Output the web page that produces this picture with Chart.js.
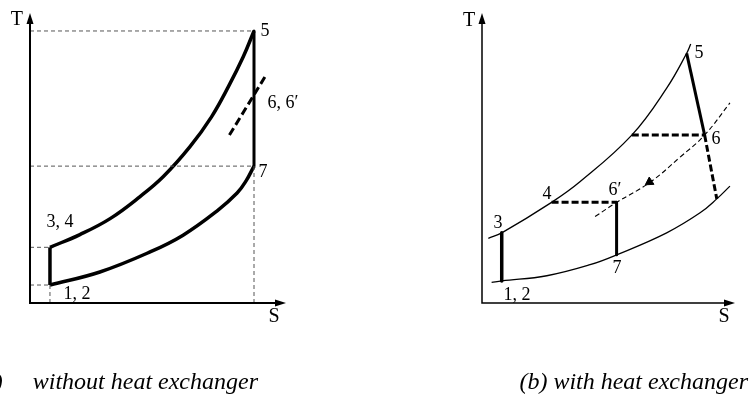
<!DOCTYPE html>
<html><head><meta charset="utf-8">
<script src="https://cdn.jsdelivr.net/npm/chart.js@4.4.0/dist/chart.umd.min.js"></script>
<style>
html,body{margin:0;padding:0;background:#fff;width:756px;height:400px;overflow:hidden;}
canvas{position:absolute;top:0;}
.cap{position:absolute;top:369px;font:italic 24px "Liberation Serif";white-space:pre;line-height:24px;color:#000;}
</style></head><body>
<canvas id="ca" width="378" height="400" style="left:0"></canvas>
<canvas id="cb" width="378" height="400" style="left:378px"></canvas>
<div class="cap" style="right:498px">(a)     without heat exchanger</div>
<div class="cap" style="right:8px">(b) with heat exchanger</div>
<script>
// ---------- Panel (a): without heat exchanger ----------
const aStateS = [0.78, 8.75];              // s1 (=s2=s3=s4), s5 (=s6=s7)
const aStateT = [0.62, 1.92, 4.72, 9.38];  // T1,2 ; T3,4 ; T7 ; T5
const aUpperS = [0.78, 1.95, 3.13, 4.30, 5.21, 6.25, 7.09, 7.75, 8.33, 8.75];
const aUpperT = [1.92, 2.36, 2.91, 3.67, 4.36, 5.39, 6.42, 7.46, 8.49, 9.38];
const aLowerS = [0.78, 2.73, 4.69, 5.98, 7.30, 8.09, 8.44, 8.75];
const aLowerT = [0.62, 1.07, 1.76, 2.34, 3.17, 3.79, 4.21, 4.72];
const aDashS = [7.79, 9.18];
const aDashT = [5.79, 7.80];
const aLabelText = ['T', 'S', '5', '6, 6\u2032', '7', '3, 4', '1, 2'];
const aLabelS = [-0.51, 9.53, 9.18, 9.88, 9.10, 1.17, 1.84];
const aLabelT = [9.76, -0.48, 9.38, 6.90, 4.52, 2.79, 0.31];

// ---------- Panel (b): with heat exchanger ----------
const bUpperS = [0.25, 0.78, 2.75, 3.87, 5.92, 7.30, 8.09, 8.25];
const bUpperT = [2.23, 2.42, 3.47, 4.18, 5.79, 7.41, 8.61, 8.93];
const bLowerS = [0.38, 0.78, 2.56, 4.27, 5.32, 7.30, 8.62, 9.28, 9.80];
const bLowerT = [0.71, 0.76, 0.94, 1.32, 1.66, 2.42, 3.11, 3.59, 4.03];
const bArcS = [4.47, 5.32, 6.64, 7.83, 8.80, 9.80];
const bArcT = [2.98, 3.47, 4.16, 5.03, 5.79, 6.90];
// state points: 1,2 ; 3 ; 4 ; 5 ; 6 ; 6' ; 7 ; turbine end ; regenerator hot-side start
const bPtS = {p12: 0.78, p3: 0.78, p4: 2.75, p5: 8.09, p6: 8.80, p6p: 5.32, p7: 5.32, pe: 9.28, pm: 5.92};
const bPtT = {p12: 0.76, p3: 2.42, p4: 3.47, p5: 8.61, p6: 5.79, p6p: 3.47, p7: 1.66, pe: 3.59, pm: 5.79};
const bArrowS = [6.62];
const bArrowT = [4.17];
const bLabelText = ['T', 'S', '5', '6', '3', '4', '6\u2032', '7', '1, 2'];
const bLabelS = [-0.51, 9.57, 8.58, 9.25, 0.63, 2.57, 5.26, 5.34, 1.38];
const bLabelT = [9.72, -0.48, 8.62, 5.66, 2.76, 3.76, 3.90, 1.21, 0.28];

function pts(S, T) { return S.map((v, i) => ({x: v, y: T[i]})); }
function line(S, T, w, dash, curve) {
  return {data: pts(S, T), showLine: true, pointRadius: 0, borderColor: '#000',
    borderWidth: w, borderDash: dash || [], fill: false, clip: false,
    tension: curve ? 0.4 : 0, borderCapStyle: 'butt', borderJoinStyle: 'round'};
}
function refLine(S, T) {
  return {data: pts(S, T), showLine: true, pointRadius: 0, borderColor: '#555',
    borderWidth: 1, borderDash: [4, 3], fill: false, clip: false};
}

const axesPlugin = {
  id: 'axes',
  afterDatasetsDraw(chart, args, opts) {
    const c = chart.ctx, a = chart.chartArea;
    c.save();
    c.strokeStyle = '#000'; c.fillStyle = '#000'; c.lineWidth = opts.width;
    c.beginPath();
    c.moveTo(a.left, a.top + 9); c.lineTo(a.left, a.bottom); c.lineTo(a.right - 9, a.bottom);
    c.stroke();
    c.beginPath();
    c.moveTo(a.left, a.top); c.lineTo(a.left - 3.5, a.top + 11); c.lineTo(a.left + 3.5, a.top + 11); c.closePath(); c.fill();
    c.beginPath();
    c.moveTo(a.right, a.bottom); c.lineTo(a.right - 11, a.bottom - 3.5); c.lineTo(a.right - 11, a.bottom + 3.5); c.closePath(); c.fill();
    // labels
    const xs = chart.scales.x, ys = chart.scales.y;
    c.textAlign = 'center'; c.textBaseline = 'middle';
    opts.text.forEach((t, i) => {
      c.font = (t === 'T' || t === 'S' ? '20px' : '18px') + ' "Liberation Serif"';
      c.fillText(t, xs.getPixelForValue(opts.s[i]), ys.getPixelForValue(opts.T[i]));
    });
    c.restore();
  }
};

function makeChart(id, datasets, pad, axisW, labels) {
  return new Chart(document.getElementById(id), {
    type: 'scatter',
    data: {datasets},
    options: {
      responsive: false, animation: false, devicePixelRatio: 1,
      layout: {padding: pad},
      scales: {x: {type: 'linear', min: 0, max: 10, display: false},
               y: {type: 'linear', min: 0, max: 10, display: false}},
      plugins: {legend: {display: false}, tooltip: {enabled: false},
                axes: {width: axisW, text: labels[0], s: labels[1], T: labels[2]}}
    },
    plugins: [axesPlugin]
  });
}

// Panel (a)
const [s1, s5] = aStateS; const [T1, T3, T7, T5] = aStateT;
makeChart('ca', [
  refLine([0, s5], [T5, T5]),
  refLine([0, s5], [T7, T7]),
  refLine([0, s1], [T3, T3]),
  refLine([0, s1], [T1, T1]),
  refLine([s1, s1], [0, T1]),
  refLine([s5, s5], [0, T7]),
  line(aUpperS, aUpperT, 3.5, null, true),
  line(aLowerS, aLowerT, 3.5, null, true),
  line([s1, s1], [T1, T3], 3.5),
  line([s5, s5], [T5, T7], 3),
  line(aDashS, aDashT, 3, [8, 4])
], {left: 30, right: 92, top: 13, bottom: 97}, 2, [aLabelText, aLabelS, aLabelT]);

// Panel (b)
const seg = (k1, k2) => [[bPtS[k1], bPtS[k2]], [bPtT[k1], bPtT[k2]]];
const arrowDs = {data: pts(bArrowS, bArrowT), showLine: false, pointStyle: 'triangle',
  pointRadius: 5, rotation: 237, backgroundColor: '#000', borderColor: '#000', borderWidth: 1, clip: false};
makeChart('cb', [
  line(bUpperS, bUpperT, 1.3, null, true),
  line(bLowerS, bLowerT, 1.3, null, true),
  line(bArcS, bArcT, 1.1, [5, 3], true),
  line(...seg('p3', 'p12'), 3.5),
  line(...seg('p6p', 'p7'), 3),
  line(...seg('p4', 'p6p'), 3, [7, 3]),
  line(...seg('pm', 'p6'), 3, [7, 3]),
  line(...seg('p5', 'p6'), 3),
  line(...seg('p6', 'pe'), 3, [7, 3]),
  arrowDs
], {left: 104, right: 21, top: 13, bottom: 97}, 1.5, [bLabelText, bLabelS, bLabelT]);
</script>
</body></html>
